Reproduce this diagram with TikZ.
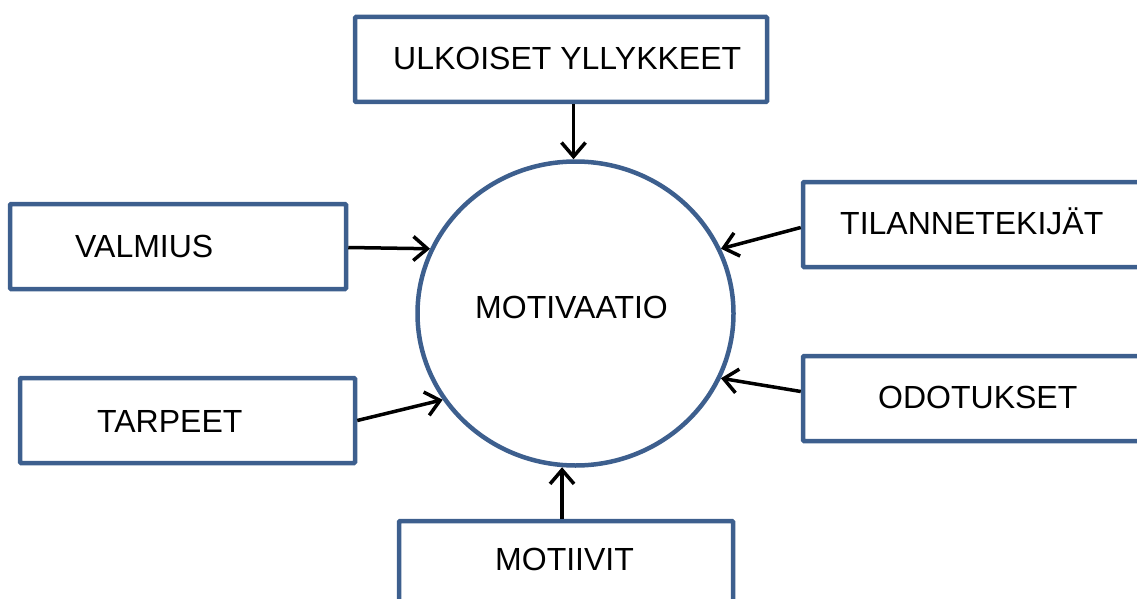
\documentclass[tikz,border=0pt]{standalone}
\usepackage{fontspec}
\setmainfont{Liberation Sans}
\usetikzlibrary{arrows.meta,shapes.geometric}
\definecolor{boxblue}{HTML}{3D5F8E}
\tikzset{
  factorbox/.style={draw=boxblue, line width=4.5pt, rounded corners=1pt, minimum height=85pt, inner sep=0pt},
  factortext/.style={anchor=base west, inner sep=0pt, font=\fontsize{32}{36}\selectfont},
  influence/.style={-{Straight Barb[length=14pt,width=24pt]}, line width=3.5pt, black}
}

\begin{document}
\begin{tikzpicture}[x=1pt, y=-1pt]
\useasboundingbox (0,0) rectangle (1137,599);
\clip (0,0) rectangle (1137,599);
% centre
\node[draw=boxblue, line width=4.5pt, ellipse, minimum width=316pt, minimum height=304pt] (motiv) at (575.5,313.5) {};
\node[factortext] (motivtext) at (475,318) {MOTIVAATIO};
% boxes
\node[factorbox, minimum width=412pt] (ulk) at (561,59.5) {};
\node[factortext] (ulktext) at (393,70) {ULKOISET YLLYKKEET};
\node[factorbox, minimum width=336pt] (valmius) at (178,246.5) {};
\node[factortext] (valmiustext) at (75,257) {VALMIUS};
\node[factorbox, minimum width=335pt] (tarpeet) at (187.5,420.5) {};
\node[factortext] (tarpeettext) at (97,432) {TARPEET};
\node[factorbox, minimum width=340pt] (tilanne) at (973,224.5) {};
\node[factortext] (tilannetext) at (840,234) {TILANNETEKIJÄT};
\node[factorbox, minimum width=340pt] (odotukset) at (973,398.5) {};
\node[factortext] (odotuksettext) at (878,408) {ODOTUKSET};
\node[factorbox, minimum width=334pt] (motiivit) at (566,563.5) {};
\node[factortext] (motiivittext) at (495,570) {MOTIIVIT};
% arrows
\draw[influence] ([xshift=-2pt]motiv.north |- ulk.south) -- ([xshift=-2pt]motiv.north);
\draw[influence] ([yshift=-1pt]valmius.east) -- (motiv.156);
\draw[influence] (tarpeet.east) -- (motiv.213);
\draw[influence] ([yshift=-3pt]tilanne.west) -- (motiv.24);
\draw[influence] ([yshift=7pt]odotukset.west) -- (motiv.336);
\draw[influence] (motiv.265 |- motiivit.north) -- (motiv.265);
\end{tikzpicture}
\end{document}
